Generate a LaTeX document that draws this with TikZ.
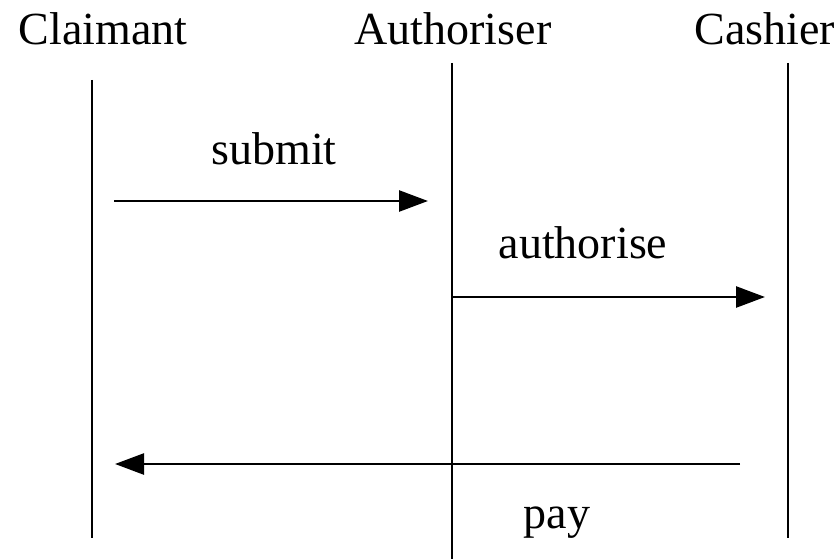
\documentclass[tikz,border=0pt]{standalone}
\usepackage{fontspec}
\setmainfont{Liberation Serif}
\usetikzlibrary{arrows.meta}
\begin{document}
\begin{tikzpicture}[x=1pt,y=-1pt,
  actor/.style={anchor=base,inner sep=0pt,font=\fontsize{46}{50}\selectfont},
  msglabel/.style={anchor=base,inner sep=0pt,font=\fontsize{46}{50}\selectfont},
  lifeline/.style={line width=2.5pt},
  message/.style={line width=2.5pt,-{Triangle[length=29pt,width=21pt]}}]
\useasboundingbox[fill=white] (0,0) rectangle (840,559);
% participants
\node[actor] (claimant) at (103,45) {Claimant};
\node[actor] (authoriser) at (453,45) {Authoriser};
\node[actor] (cashier) at (765,45) {Cashier};
% lifeline ends
\coordinate (cTop) at (92,80);
\coordinate (cBot) at (92,538);
\coordinate (aTop) at (452,63);
\coordinate (aBot) at (452,559);
\coordinate (kTop) at (788,63);
\coordinate (kBot) at (788,538);
\draw[lifeline] (cTop) -- (cBot);
\draw[lifeline] (aTop) -- (aBot);
\draw[lifeline] (kTop) -- (kBot);
% message ends
\coordinate (sFrom) at (114,201);
\coordinate (sTo) at (428,201);
\coordinate (auFrom) at (452,297);
\coordinate (auTo) at (765,297);
\coordinate (pFrom) at (740,464);
\coordinate (pTo) at (115,464);
\draw[message] (sFrom) -- (sTo);
\draw[message] (auFrom) -- (auTo);
\draw[message] (pFrom) -- (pTo);
% message labels
\node[msglabel] (submit) at (274,164) {submit};
\node[msglabel] (authorise) at (583,258) {authorise};
\node[msglabel] (pay) at (557,528) {pay};
\end{tikzpicture}
\end{document}
